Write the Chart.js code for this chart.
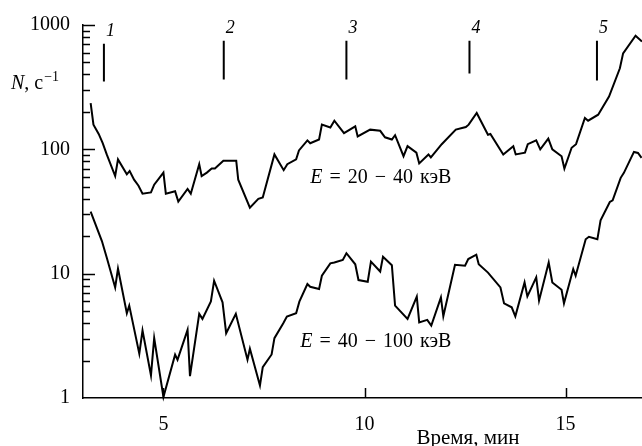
<!DOCTYPE html>
<html>
<head>
<meta charset="utf-8">
<script src="https://cdn.jsdelivr.net/npm/chart.js@4/dist/chart.umd.min.js"></script>
<style>
    body { margin: 0; background: #fff; }
    canvas { display: block; }
</style>
</head>
<body>
<canvas id="chart" width="642" height="446"></canvas>
<script>
// Upper curve, E = 20 - 40 keV (time in minutes, counts per second)
const upperTime = [3.19, 3.26, 3.39, 3.49, 3.59, 3.80, 3.87, 4.09, 4.16, 4.27, 4.38, 4.48, 4.69, 4.77, 5.00, 5.06, 5.29, 5.37, 5.60, 5.68, 5.89, 5.95, 6.08, 6.20, 6.28, 6.49, 6.81, 6.86, 7.15, 7.36, 7.47, 7.76, 7.99, 8.08, 8.30, 8.37, 8.58, 8.65, 8.87, 8.94, 9.15, 9.25, 9.49, 9.77, 9.83, 10.14, 10.39, 10.51, 10.68, 10.76, 10.97, 11.07, 11.29, 11.36, 11.59, 11.65, 11.92, 12.27, 12.52, 12.59, 12.79, 13.07, 13.13, 13.45, 13.70, 13.76, 13.99, 14.06, 14.27, 14.37, 14.57, 14.67, 14.90, 14.97, 15.15, 15.26, 15.48, 15.56, 15.81, 16.08, 16.35, 16.43, 16.74, 16.90];
const upperCounts = [235, 158, 133, 112, 91, 61, 83, 63, 67, 57, 51, 44, 45, 52, 65, 44, 46, 38, 48, 44, 76, 61, 65, 70, 70, 81, 81, 57, 34, 40, 41, 91, 68, 76, 83, 98, 118, 112, 120, 158, 150, 170, 135, 153, 127, 144, 141, 125, 120, 130, 88, 106, 94, 77, 91, 86, 110, 144, 151, 158, 196, 131, 133, 91, 106, 91, 94, 110, 118, 100, 122, 100, 88, 70, 103, 110, 179, 170, 190, 266, 449, 592, 821, 735];

// Lower curve, E = 40 - 100 keV
const lowerTime = [3.19, 3.47, 3.59, 3.80, 3.87, 4.09, 4.15, 4.40, 4.48, 4.69, 4.77, 5.00, 5.29, 5.35, 5.60, 5.66, 5.89, 5.97, 6.18, 6.26, 6.47, 6.56, 6.80, 7.09, 7.15, 7.40, 7.47, 7.69, 7.76, 7.98, 8.07, 8.30, 8.38, 8.58, 8.65, 8.87, 8.94, 9.15, 9.25, 9.46, 9.55, 9.77, 9.85, 10.08, 10.16, 10.39, 10.46, 10.68, 10.76, 11.07, 11.30, 11.36, 11.56, 11.66, 11.90, 11.96, 12.25, 12.50, 12.58, 12.78, 12.84, 13.07, 13.38, 13.47, 13.66, 13.75, 13.98, 14.05, 14.27, 14.34, 14.58, 14.67, 14.90, 14.96, 15.19, 15.25, 15.50, 15.58, 15.79, 15.87, 16.10, 16.17, 16.37, 16.45, 16.70, 16.80, 16.89];
const lowerCounts = [31.5, 18.3, 13.5, 7.75, 11.0, 4.80, 5.53, 2.27, 3.49, 1.52, 3.03, 1.02, 2.23, 2.03, 3.53, 1.50, 4.75, 4.33, 5.99, 8.77, 5.88, 3.32, 4.75, 2.03, 2.49, 1.26, 1.77, 2.24, 3.03, 3.99, 4.52, 4.80, 5.96, 8.26, 7.85, 7.53, 9.62, 12.1, 12.3, 12.9, 14.6, 11.9, 8.89, 8.61, 12.5, 10.4, 13.7, 11.7, 5.53, 4.33, 6.53, 4.06, 4.25, 3.83, 6.45, 4.54, 11.8, 11.6, 13.1, 14.2, 11.9, 10.2, 7.75, 5.77, 5.36, 4.54, 8.50, 6.57, 9.33, 6.07, 12.3, 8.50, 7.43, 5.77, 10.9, 9.62, 18.9, 19.8, 18.9, 26.9, 37.7, 38.9, 59.0, 64.7, 95.3, 93.5, 85.3];

// Event markers 1..5 (time, top and bottom of the vertical stroke)
const markerLabels = ["1", "2", "3", "4", "5"];
const markerTime = [3.52, 6.50, 9.55, 12.61, 15.78];
const markerTop = [708, 748, 748, 748, 748];
const markerBottom = [351, 364, 364, 407, 357];

// Axis ticks
const xTickValues = [5, 10, 15];
const yTickValues = [1, 10, 100, 1000];

// Curve captions: [time, counts, energy range]
const captionUpper = [8.65, 58.7, "20 \u2212 40"];
const captionLower = [8.40, 2.81, "40 \u2212 100"];

const SERIF = "'Liberation Serif', 'Times New Roman', serif";

function toPoints(xs, ys){
    /* Pairs the time and count arrays into {x, y} points */
    const pts = [];
    for(let i = 0; i < xs.length; i++){
        pts.push({x: xs[i], y: ys[i]});
    }
    return pts;
}

const datasets = [
    {data: toPoints(upperTime, upperCounts)},
    {data: toPoints(lowerTime, lowerCounts)}
];

for(let i = 0; i < markerTime.length; i++){
    datasets.push({data: [{x: markerTime[i], y: markerTop[i]}, {x: markerTime[i], y: markerBottom[i]}]});
}

datasets.forEach(ds => {
    ds.borderColor = "#000";
    ds.borderWidth = 2;
    ds.pointRadius = 0;
    ds.tension = 0;
    ds.fill = false;
    ds.clip = false;
});

// Draws inward tick marks, captions and axis titles
const decorations = {
    id: "decorations",
    afterDatasetsDraw(chart){
        const ctx = chart.ctx;
        const xs = chart.scales.x;
        const ys = chart.scales.y;
        const left = chart.chartArea.left;
        const bottom = chart.chartArea.bottom;

        ctx.save();
        ctx.strokeStyle = "#000";
        ctx.lineWidth = 1.5;

        /* Logarithmic ticks on the y axis, pointing inside */
        for(let d = 1; d <= 1000; d *= 10){
            for(let k = 1; k <= 9; k++){
                const v = k * d;
                if(v > 1000) break;
                if(v === 1) continue;
                const y = Math.round(ys.getPixelForValue(v)) + 0.5;
                const len = (k === 1) ? 12 : 7;
                ctx.beginPath();
                ctx.moveTo(left, y);
                ctx.lineTo(left + len, y);
                ctx.stroke();
            }
        }

        /* Ticks on the x axis */
        xTickValues.forEach(v => {
            const x = Math.round(xs.getPixelForValue(v)) + 0.5;
            ctx.beginPath();
            ctx.moveTo(x, bottom);
            ctx.lineTo(x, bottom - 10);
            ctx.stroke();
        });

        ctx.fillStyle = "#000";
        ctx.textBaseline = "middle";
        ctx.textAlign = "left";

        /* Marker numbers */
        ctx.font = "italic 18px " + SERIF;
        for(let i = 0; i < markerTime.length; i++){
            const x = xs.getPixelForValue(markerTime[i]);
            const y = ys.getPixelForValue(markerTop[i]);
            ctx.fillText(markerLabels[i], x + 2, y - 12);
        }

        /* Curve captions: italic E, then the rest */
        [captionUpper, captionLower].forEach(c => {
            let x = xs.getPixelForValue(c[0]);
            const y = ys.getPixelForValue(c[1]);
            const parts = [["E", "italic"], ["=", ""], ...c[2].split(" ").map(p => [p, ""]), ["кэВ", ""]];
            parts.forEach(p => {
                ctx.font = (p[1] ? p[1] + " " : "") + "20px " + SERIF;
                ctx.fillText(p[0], x, y);
                x += ctx.measureText(p[0]).width + 7;
            });
        });

        /* Y axis title: N, c^-1 */
        ctx.font = "italic 20px " + SERIF;
        ctx.fillText("N", 11, 84);
        let tx = 11 + ctx.measureText("N").width;
        ctx.font = "20px " + SERIF;
        ctx.fillText(", c", tx, 84);
        tx += ctx.measureText(", c").width + 1;
        ctx.font = "14px " + SERIF;
        ctx.fillText("\u22121", tx, 77);

        /* X axis title */
        ctx.font = "21px " + SERIF;
        ctx.textAlign = "center";
        ctx.fillText("Время, мин", 468, 438);

        ctx.restore();
    }
};

const ctx = document.getElementById("chart").getContext("2d");

new Chart(ctx, {
    type: "line",
    data: {datasets: datasets},
    options: {
        responsive: false,
        animation: false,
        devicePixelRatio: 1,
        layout: {padding: {top: 23, right: 0, bottom: 0, left: 0}},
        plugins: {
            legend: {display: false},
            tooltip: {enabled: false}
        },
        scales: {
            x: {
                type: "linear",
                min: 3,
                max: 16.9,
                afterBuildTicks: axis => { axis.ticks = xTickValues.map(v => ({value: v})); },
                afterFit: axis => { axis.height = 48; },
                grid: {display: false, drawTicks: false},
                border: {display: true, color: "#000", width: 1.5},
                ticks: {
                    color: "#000",
                    padding: 15,
                    maxRotation: 0,
                    font: {family: SERIF, size: 20},
                    callback: v => String(v)
                }
            },
            y: {
                type: "logarithmic",
                min: 1,
                max: 1000,
                afterBuildTicks: axis => { axis.ticks = yTickValues.map(v => ({value: v})); },
                afterFit: axis => { axis.width = 83; },
                grid: {display: false, drawTicks: false},
                border: {display: true, color: "#000", width: 1.5},
                ticks: {
                    color: "#000",
                    padding: 13,
                    font: {family: SERIF, size: 20},
                    callback: v => String(v)
                }
            }
        }
    },
    plugins: [decorations]
});
</script>
</body>
</html>
